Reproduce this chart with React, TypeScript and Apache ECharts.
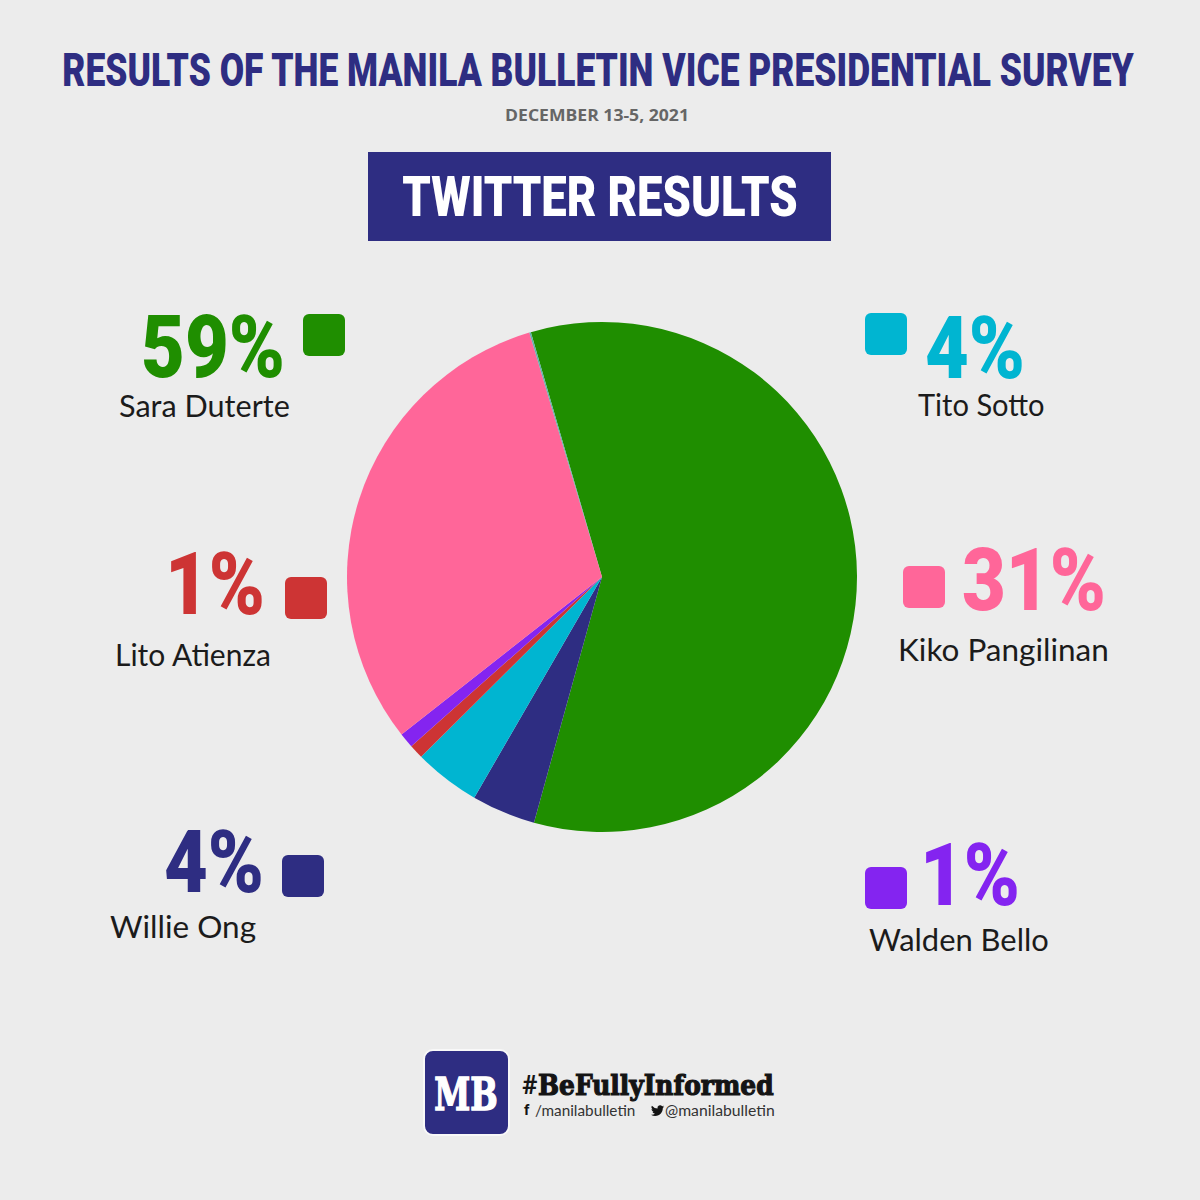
import React, { useEffect, useRef } from "react";
import * as echarts from "echarts";

const candidates = ["Sara Duterte", "Willie Ong", "Tito Sotto", "Lito Atienza", "Walden Bello", "Kiko Pangilinan", "Others"];
const shares = [58.8, 4.05, 4.2, 0.9, 0.95, 31.0, 0.1];
const colors = ["#1f8e00", "#2e2d82", "#00b5d1", "#cd3434", "#8424f0", "#ff6699", "#5fb0a8"];
const percentLabels = ["59%", "4%", "4%", "1%", "1%", "31%"];
const titleText = "RESULTS OF THE MANILA BULLETIN VICE PRESIDENTIAL SURVEY";
const dateText = "DECEMBER 13-5, 2021";
const bannerText = "TWITTER RESULTS";
const hashtag = "BeFullyInformed";
const handle = "/manilabulletin";
const twitterHandle = "@manilabulletin";

const birdPath =
  "M24 4.6c-.9.4-1.8.7-2.8.8 1-.6 1.8-1.6 2.2-2.7-1 .6-2 1-3.1 1.2A4.9 4.9 0 0 0 11.9 8.400 14 14 0 0 1 1.700 3.200a4.900 4.900 0 0 0 1.500 6.600c-.8 0-1.600-.2-2.200-.6v.1c0 2.400 1.700 4.400 3.900 4.800-.7.200-1.500.2-2.200.1.600 2 2.400 3.400 4.600 3.400A9.900 9.900 0 0 1 0 19.600 14 14 0 0 0 7.500 21.800c9.100 0 14-7.500 14-14v-.6c1-.7 1.800-1.600 2.500-2.600z";
echarts.graphic.registerShape("bird", echarts.graphic.extendPath(birdPath as any, {}) as any);

// layout of the legend blocks, by candidate index
const blocks: Record<number, { pct: [number, number]; box: [number, number]; name: [number, number]; nameSx: number; align: string }> = {
  0: { pct: [285, 391], box: [303, 314], name: [119, 405], nameSx: 1.02, align: "right" },
  2: { pct: [925, 392], box: [865, 313], name: [918, 404], nameSx: 0.97, align: "left" },
  5: { pct: [962, 624], box: [903, 566], name: [898, 650], nameSx: 1.05, align: "left" },
  3: { pct: [265, 628], box: [285, 577], name: [115, 654], nameSx: 1.0, align: "right" },
  1: { pct: [264, 906], box: [282, 855], name: [110, 927], nameSx: 1.05, align: "right" },
  4: { pct: [920, 919], box: [865, 867], name: [869, 939], nameSx: 1.03, align: "left" },
};

export default function App() {
  const ref = useRef<HTMLDivElement>(null);
  useEffect(() => {
    document.body.style.margin = "0";
    const chart = echarts.init(ref.current!, undefined, { renderer: "svg" });
    const legendEls: any[] = [];
    Object.keys(blocks).forEach((k) => {
      const i = Number(k);
      const b = blocks[i];
      legendEls.push({
        type: "rect",
        shape: { x: b.box[0], y: b.box[1], width: 42, height: 42, r: 6 },
        style: { fill: colors[i] },
      });
      legendEls.push({
        type: "text",
        x: b.pct[0],
        y: b.pct[1],
        scaleX: 0.86,
        style: {
          text: percentLabels[i],
          font: "900 88px 'Roboto'",
          fill: colors[i],
          textAlign: b.align,
          verticalAlign: "bottom",
          lineHeight: 88,
        },
      });
      legendEls.push({
        type: "text",
        x: b.name[0],
        y: b.name[1],
        scaleX: b.nameSx,
        style: {
          text: candidates[i],
          font: "400 30px 'Lato'",
          fill: "#1b1b1b",
          textAlign: "left",
          verticalAlign: "middle",
        },
      });
    });
    chart.setOption({
      animation: false,
      backgroundColor: "#ececec",
      series: [
        {
          type: "pie",
          center: [602, 577],
          radius: [0, 255],
          startAngle: 106.2,
          clockwise: true,
          silent: true,
          label: { show: false },
          labelLine: { show: false },
          itemStyle: { borderWidth: 0 },
          data: candidates.map((name, i) => ({
            name,
            value: shares[i],
            itemStyle: { color: colors[i] },
          })),
        },
      ],
      graphic: {
        elements: [
          {
            type: "text",
            x: 598,
            y: 70,
            scaleX: 0.77,
            style: {
              text: titleText,
              font: "900 46px 'Roboto'",
              fill: "#2e2d82",
              textAlign: "center",
              verticalAlign: "middle",
            },
          },
          {
            type: "text",
            x: 597,
            y: 115,
            scaleX: 1.1,
            style: {
              text: dateText,
              font: "700 16px 'Open Sans'",
              fill: "#666666",
              textAlign: "center",
              verticalAlign: "middle",
            },
          },
          {
            type: "rect",
            shape: { x: 368, y: 152, width: 463, height: 89 },
            style: { fill: "#2e2d82" },
          },
          {
            type: "text",
            x: 600,
            y: 197,
            scaleX: 0.81,
            style: {
              text: bannerText,
              font: "900 56px 'Roboto'",
              fill: "#ffffff",
              textAlign: "center",
              verticalAlign: "middle",
            },
          },
          ...legendEls,
          {
            type: "rect",
            shape: { x: 424, y: 1050, width: 85, height: 85, r: 9 },
            style: { fill: "#2e2d82", stroke: "#f8f8f8", lineWidth: 2 },
          },
          {
            type: "text",
            x: 466,
            y: 1095,
            scaleX: 0.74,
            style: {
              text: "MB",
              font: "900 44px 'DejaVu Serif'",
              fill: "#ffffff",
              stroke: "#ffffff",
              lineWidth: 1.5,
              textAlign: "center",
              verticalAlign: "middle",
            },
          },
          {
            type: "text",
            x: 522,
            y: 1085,
            style: {
              text: "#",
              font: "700 26px 'Roboto'",
              fill: "#141414",
              textAlign: "left",
              verticalAlign: "middle",
            },
          },
          {
            type: "text",
            x: 538,
            y: 1085,
            scaleX: 0.89,
            style: {
              text: hashtag,
              font: "900 28px 'DejaVu Serif'",
              fill: "#141414",
              stroke: "#141414",
              lineWidth: 1.2,
              textAlign: "left",
              verticalAlign: "middle",
            },
          },
          {
            type: "text",
            x: 524,
            y: 1110,
            style: {
              text: "f",
              font: "700 15px 'Roboto'",
              fill: "#141414",
              textAlign: "left",
              verticalAlign: "middle",
            },
          },
          {
            type: "text",
            x: 535,
            y: 1110,
            scaleX: 1.02,
            style: {
              text: handle,
              font: "400 15px 'Lato'",
              fill: "#333333",
              textAlign: "left",
              verticalAlign: "middle",
            },
          },
          {
            type: "bird",
            x: 651,
            y: 1104,
            scaleX: 0.55,
            scaleY: 0.55,
            style: { fill: "#141414" },
          },
          {
            type: "text",
            x: 665,
            y: 1110,
            scaleX: 1.05,
            style: {
              text: twitterHandle,
              font: "400 15px 'Lato'",
              fill: "#333333",
              textAlign: "left",
              verticalAlign: "middle",
            },
          },
        ],
      },
    });
    return () => chart.dispose();
  }, []);
  return <div ref={ref} style={{ width: 1200, height: 1200 }} />;
}
